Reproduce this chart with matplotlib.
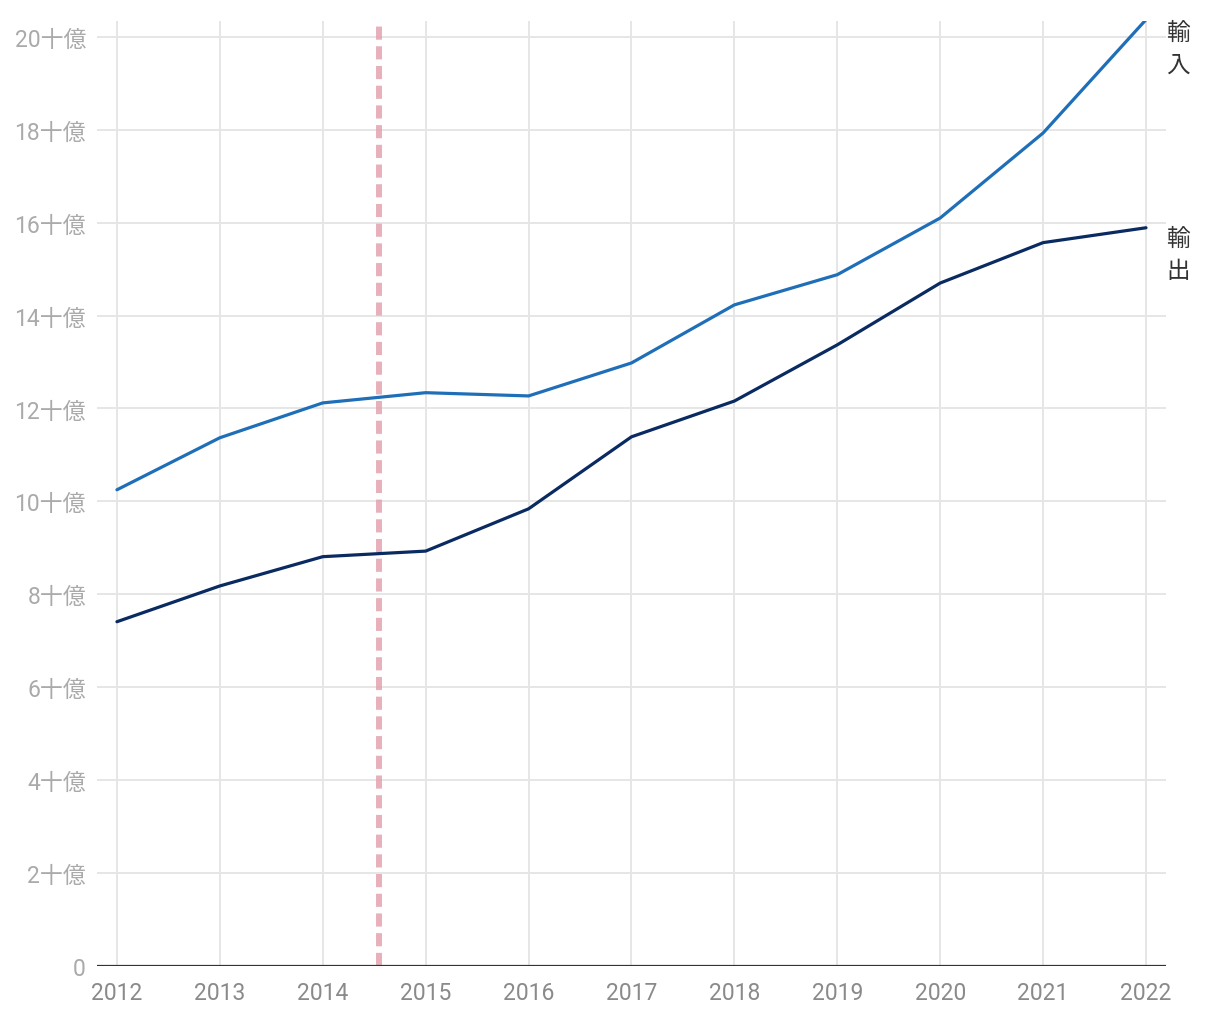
import matplotlib
matplotlib.use("Agg")
import matplotlib.pyplot as plt

plt.rcParams['font.family'] = ['Roboto', 'Noto Sans CJK JP', 'DejaVu Sans']

# data (billions)
years = list(range(2012, 2023))
imports = [10.25, 11.37, 12.12, 12.34, 12.27, 12.98, 14.23, 14.88, 16.10, 17.93, 20.37]
exports = [7.41, 8.18, 8.81, 8.93, 9.84, 11.39, 12.16, 13.37, 14.70, 15.57, 15.89]
series_names = ["輸入", "輸出"]
marker_year = 2014.55
y_ticks = [0, 2, 4, 6, 8, 10, 12, 14, 16, 18, 20]
y_tick_labels = ["0"] + [f"{v}十億" for v in y_ticks[1:]]

fig = plt.figure(figsize=(12.2, 10.2), dpi=100)
ax = fig.add_axes([0.0795, 0.052, 0.8762, 0.9264])

ax.set_xlim(2011.806, 2022.194)
ax.set_ylim(0, 20.34)

# grid
for y in y_ticks[1:]:
    ax.axhline(y, color="#e6e6e6", lw=1.4, zorder=0)
for x in years:
    ax.axvline(x, color="#e6e6e6", lw=1.4, zorder=0)

ax.axvline(marker_year, color="#e3a3ae", lw=4.3, dashes=(2.2, 1.1), alpha=0.85, zorder=1)

ax.plot(years, imports, color="#1f6fb8", lw=2.3, zorder=3, solid_capstyle="round")
ax.plot(years, exports, color="#0a2a62", lw=2.3, zorder=3, solid_capstyle="round")

ax.axhline(0, color="#333333", lw=1.6, zorder=4)

for s in ax.spines.values():
    s.set_visible(False)

ax.set_yticks(y_ticks)
ax.set_yticklabels(y_tick_labels)
ax.set_xticks(years)
ax.set_xticklabels([str(y) for y in years])
ax.tick_params(axis="both", length=0, labelsize=16.5)
ax.tick_params(axis="y", pad=8, labelcolor="#aaaaaa")
ax.tick_params(axis="x", pad=11, labelcolor="#8a8a8a")

# vertical end labels
ax.text(2022.194, 20.34, "\n".join(series_names[0]), va="top", ha="left",
        fontsize=17, color="#333333", linespacing=1.47, clip_on=False)
ax.text(2022.194, exports[-1] + 0.01, "\n".join(series_names[1]), va="top", ha="left",
        fontsize=17, color="#333333", linespacing=1.47, clip_on=False)

fig.savefig("out.png", dpi=100)
